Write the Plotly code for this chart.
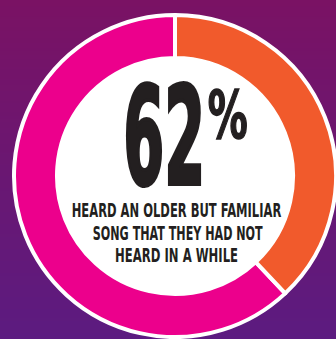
import json
import plotly.graph_objects as go

# ---- data ----
labels = ["Heard an older but familiar song", "Did not"]
values = [62, 38]
slice_colors = ["#EC008C", "#F15A2C"]
headline_value = "62"
headline_unit = "%"
caption_lines = ["HEARD AN OLDER BUT FAMILIAR", "SONG THAT THEY HAD NOT", "HEARD IN A WHILE"]

W, H = 336, 339
FONT = "Liberation Sans Narrow, DejaVu Sans Condensed, Liberation Sans, Arial, sans-serif"
INK = "#231F20"

def px(x):
    return x / W

def py(y):
    return 1 - y / H

fig = go.Figure()

# background gradient
fig.add_trace(go.Heatmap(
    x=[0, 1], y=[0, 1], z=[[0, 0], [1, 1]],
    colorscale=[[0, "#5C1B80"], [0.5, "#6A1772"], [1, "#7A1264"]],
    zsmooth="best", showscale=False, hoverinfo="skip",
))

dom = dict(x=[14 / W, 1], y=[2 / H, 324 / H])

# white disc behind the ring
fig.add_trace(go.Pie(
    values=[1], labels=["bg"], marker=dict(colors=["white"], line=dict(width=0)),
    domain=dom, textinfo="none", hoverinfo="skip", sort=False, showlegend=False,
))

# donut ring: the orange share runs clockwise from 12 o'clock, the pink share fills the rest
start_angle = 360 * values[1] / sum(values)
fig.add_trace(go.Pie(
    values=values, labels=labels, hole=0.733, sort=False,
    direction="clockwise", rotation=start_angle,
    marker=dict(colors=slice_colors, line=dict(color="white", width=4)),
    domain=dom, textinfo="none", showlegend=False,
))

annotations = []
targets = []
strokes = []

def add_text(text, cx, cy, size, target, stroke):
    annotations.append(dict(
        text=text, x=px(cx), y=py(cy), xref="paper", yref="paper",
        xanchor="center", yanchor="middle", showarrow=False,
        font=dict(family=FONT, size=size, color=INK, weight="bold"),
    ))
    targets.append(target)
    strokes.append(stroke)

add_text(headline_value, 163.5, 136.5, 136, 82, 4)
add_text(headline_unit, 228, 116, 66, 40, 1.5)
add_text(caption_lines[0], 176.5, 210, 19.5, 210, 0)
add_text(caption_lines[1], 177, 233, 19.5, 170, 0)
add_text(caption_lines[2], 176.5, 255.5, 19.5, 123, 0)

fig.update_layout(
    width=W, height=H, margin=dict(l=0, r=0, t=0, b=0),
    paper_bgcolor="#6A1772", plot_bgcolor="#6A1772",
    xaxis=dict(visible=False, range=[0, 1], domain=[0, 1], fixedrange=True),
    yaxis=dict(visible=False, range=[0, 1], domain=[0, 1], fixedrange=True),
    annotations=annotations, showlegend=False,
)

post = """
var gd = document.getElementById('{plot_id}');
var targets = %s;
var strokes = %s;
gd.querySelectorAll('g.annotation').forEach(function(g){
  var i = +g.getAttribute('data-index');
  var tw = targets[i];
  if (!tw) return;
  var t = g.querySelector('text.annotation-text');
  if (!t) return;
  var bb = t.getBBox();
  if (!bb.width) return;
  var cx = bb.x + bb.width / 2;
  var s = tw / bb.width;
  var prev = t.getAttribute('transform') || '';
  t.setAttribute('transform', prev + ' translate(' + cx + ',0) scale(' + s + ',1) translate(' + (-cx) + ',0)');
  if (strokes[i]) {
    t.style.stroke = '%s';
    t.style.strokeWidth = strokes[i] + 'px';
    t.style.strokeLinejoin = 'miter';
  }
});
""" % (json.dumps(targets), json.dumps(strokes), INK)

fig.write_html("out.html", post_script=post, config={"displayModeBar": False})
